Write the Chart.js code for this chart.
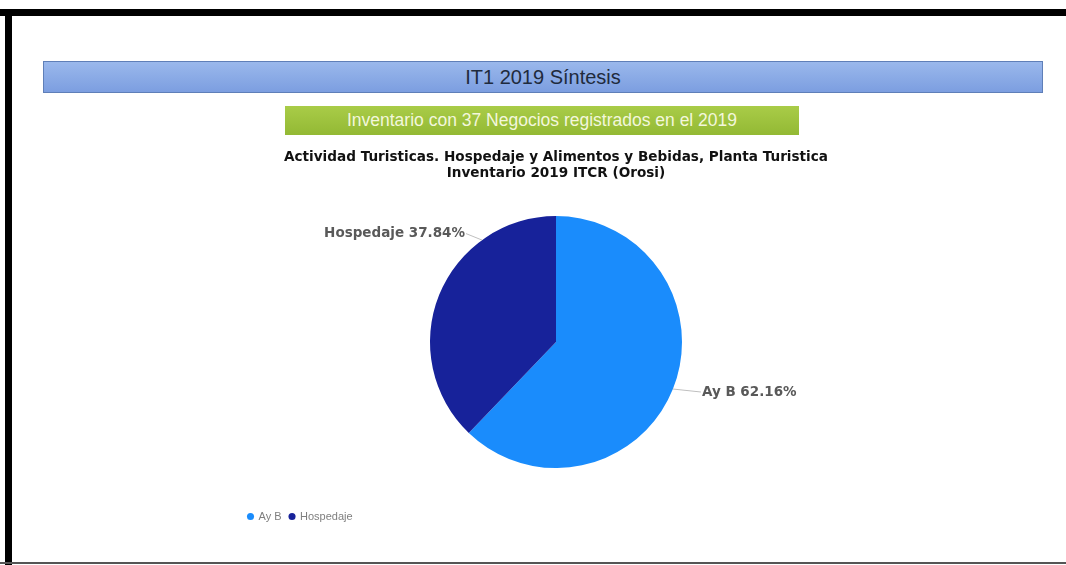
<!DOCTYPE html>
<html>
<head>
<meta charset="utf-8">
<script src="https://cdn.jsdelivr.net/npm/chart.js@4"></script>
<style>
  body { margin: 0; background: #fff; width: 1066px; height: 565px; overflow: hidden; position: relative; font-family: "Liberation Sans", Arial, sans-serif; }
  .borde-top { position: absolute; left: 0; top: 9px; width: 1066px; height: 7px; background: #000; }
  .borde-izq { position: absolute; left: 5px; top: 9px; width: 7px; height: 556px; background: #000; }
  .borde-bot { position: absolute; left: 0; top: 562px; width: 1066px; height: 2px; background: #555; }
  .banda-azul {
    position: absolute; left: 43px; top: 61px; width: 998px; height: 30px;
    background: linear-gradient(#9ab8ec, #7c9ee0); border: 1px solid #5f7fb8;
    text-align: center; line-height: 30px;
    font-size: 20px; color: #1f2b3d;
  }
  .banda-verde {
    position: absolute; left: 285px; top: 106px; width: 514px; height: 29px;
    background: linear-gradient(#a9cc48, #93b934);
    text-align: center; line-height: 29px;
    font-size: 17.5px; color: #f3f7dc;
  }
  #contenedor { position: absolute; left: 240px; top: 145px; width: 632px; height: 387px; }
</style>
</head>
<body>
<div class="borde-top"></div>
<div class="borde-izq"></div>
<div class="borde-bot"></div>
<div class="banda-azul">IT1 2019 Síntesis</div>
<div class="banda-verde">Inventario con 37 Negocios registrados en el 2019</div>
<div id="contenedor"><canvas id="graficaActividad"></canvas></div>
<script>
// datos (37 negocios)
const categorias = ['Ay B', 'Hospedaje'];
const negocios = [23, 14];
const etiquetas = ['Ay B 62.16%', 'Hospedaje 37.84%'];
const colores = ['#1a8cfc', '#17229a'];

// etiquetas fuera del pastel con linea guia
const etiquetasPastel = {
  id: 'etiquetasPastel',
  afterDatasetsDraw(chart, args, opts) {
    const ctx = chart.ctx;
    const arcos = chart.getDatasetMeta(0).data;
    ctx.save();
    ctx.font = 'bold 13.5px "DejaVu Sans", sans-serif';
    ctx.fillStyle = '#595959';
    ctx.strokeStyle = '#bfbfbf';
    ctx.lineWidth = 1;
    ctx.textBaseline = 'middle';
    arcos.forEach((arco, i) => {
      const f = opts.fraccion[i];
      const a = arco.startAngle + f * (arco.endAngle - arco.startAngle);
      const r = arco.outerRadius;
      const px = arco.x + r * Math.cos(a);
      const py = arco.y + r * Math.sin(a);
      const lado = Math.cos(a) >= 0 ? 1 : -1;
      const qx = px + lado * opts.largo[i];
      const qy = py + Math.sin(a) * 8;
      ctx.beginPath();
      ctx.moveTo(px, py);
      ctx.lineTo(qx, qy);
      ctx.stroke();
      ctx.textAlign = lado > 0 ? 'left' : 'right';
      ctx.fillText(etiquetas[i], qx + lado * 1, qy);
    });
    ctx.restore();
  }
};

const ctx = document.getElementById('graficaActividad').getContext('2d');
new Chart(ctx, {
  type: 'pie',
  data: {
    labels: categorias,
    datasets: [{
      data: negocios,
      backgroundColor: colores,
      borderWidth: 0
    }]
  },
  options: {
    responsive: true,
    maintainAspectRatio: false,
    animation: false,
    radius: 126,
    plugins: {
      title: {
        display: true,
        text: ['Actividad Turisticas. Hospedaje y Alimentos y Bebidas, Planta Turistica', 'Inventario 2019 ITCR (Orosi)'],
        color: '#111',
        font: { family: '"DejaVu Sans", sans-serif', size: 13.6, weight: 'bold', lineHeight: 1.18 },
        padding: { top: 4, bottom: 0 }
      },
      legend: {
        position: 'bottom',
        align: 'start',
        labels: {
          usePointStyle: true,
          pointStyle: 'circle',
          boxWidth: 5,
          boxHeight: 5,
          padding: 8,
          color: '#7f7f7f',
          font: { family: '"Liberation Sans", Arial, sans-serif', size: 11 }
        }
      },
      tooltip: { enabled: false },
      etiquetasPastel: { fraccion: [0.5, 0.736], largo: [28, 16] }
    }
  },
  plugins: [etiquetasPastel]
});
</script>
</body>
</html>
